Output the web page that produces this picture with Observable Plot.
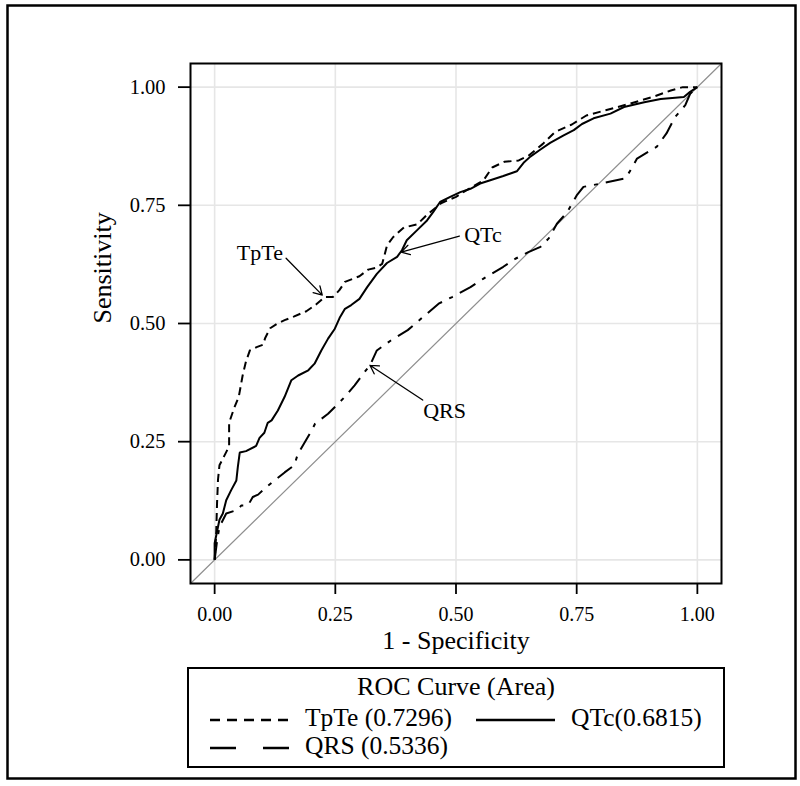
<!DOCTYPE html>
<html><head><meta charset="utf-8">
<script src="https://cdn.jsdelivr.net/npm/d3@7"></script>
<script src="https://cdn.jsdelivr.net/npm/@observablehq/plot@0.6"></script>
<style>
body{margin:0;background:#fff;}
#wrap{position:relative;width:800px;height:786px;font-family:"Liberation Serif","Times New Roman",serif;}
#wrap svg{position:absolute;left:0;top:0;}
</style></head><body><div id="wrap"></div>
<script>
// ---- data ----
const series = ["TpTe", "QTc", "QRS"];
const legendTitle = "ROC Curve (Area)";
const legendLabels = ["TpTe (0.7296)", "QTc(0.6815)", "QRS (0.5336)"];
const xTicks = [0, 0.25, 0.5, 0.75, 1];
const yTicks = [0, 0.25, 0.5, 0.75, 1];
const xDomain = [-0.05, 1.05];
const yDomain = [-0.05, 1.05];
const xLabel = "1 - Specificity";
const yLabel = "Sensitivity";

// [1 - specificity, sensitivity]
const tpte = [[0,0],[0.003,0.05],[0.005,0.12],[0.007,0.17],[0.01,0.2],[0.02,0.22],[0.03,0.24],[0.03,0.29],[0.04,0.32],[0.05,0.345],[0.058,0.39],[0.065,0.42],[0.073,0.443],[0.087,0.45],[0.1,0.455],[0.105,0.47],[0.115,0.49],[0.13,0.5],[0.145,0.507],[0.165,0.515],[0.19,0.526],[0.21,0.54],[0.228,0.556],[0.245,0.556],[0.258,0.57],[0.27,0.588],[0.3,0.6],[0.318,0.614],[0.335,0.618],[0.347,0.626],[0.352,0.645],[0.357,0.665],[0.37,0.683],[0.392,0.703],[0.42,0.71],[0.44,0.73],[0.47,0.755],[0.5,0.768],[0.53,0.787],[0.557,0.803],[0.575,0.83],[0.6,0.842],[0.63,0.845],[0.65,0.855],[0.68,0.88],[0.705,0.905],[0.74,0.921],[0.77,0.94],[0.81,0.951],[0.86,0.965],[0.91,0.98],[0.945,0.993],[0.97,1.0],[0.985,1.0],[1,1]];
const qtc = [[0,0],[0,0.035],[0.003,0.05],[0.007,0.07],[0.01,0.085],[0.017,0.098],[0.024,0.126],[0.034,0.147],[0.045,0.168],[0.048,0.196],[0.052,0.227],[0.065,0.23],[0.086,0.241],[0.093,0.258],[0.103,0.269],[0.11,0.29],[0.118,0.295],[0.131,0.316],[0.145,0.345],[0.159,0.38],[0.173,0.39],[0.194,0.401],[0.207,0.415],[0.221,0.443],[0.235,0.468],[0.249,0.489],[0.259,0.512],[0.27,0.531],[0.283,0.539],[0.3,0.552],[0.316,0.577],[0.336,0.605],[0.357,0.628],[0.378,0.641],[0.388,0.655],[0.398,0.676],[0.419,0.697],[0.44,0.718],[0.453,0.736],[0.467,0.757],[0.488,0.768],[0.509,0.778],[0.53,0.785],[0.55,0.796],[0.571,0.803],[0.598,0.812],[0.626,0.822],[0.64,0.84],[0.654,0.853],[0.675,0.868],[0.695,0.882],[0.723,0.898],[0.744,0.909],[0.761,0.922],[0.785,0.934],[0.82,0.944],[0.848,0.958],[0.89,0.968],[0.924,0.975],[0.972,0.979],[0.985,0.99],[1,1]];
const qrs = [[0,0],[0.005,0.04],[0.01,0.07],[0.024,0.098],[0.048,0.106],[0.055,0.115],[0.069,0.115],[0.079,0.133],[0.09,0.138],[0.107,0.154],[0.145,0.185],[0.165,0.2],[0.172,0.223],[0.2,0.272],[0.208,0.288],[0.235,0.309],[0.27,0.345],[0.29,0.369],[0.308,0.394],[0.322,0.412],[0.336,0.443],[0.365,0.464],[0.4,0.486],[0.44,0.521],[0.464,0.542],[0.492,0.556],[0.53,0.577],[0.557,0.595],[0.598,0.62],[0.623,0.637],[0.65,0.651],[0.675,0.662],[0.692,0.68],[0.709,0.711],[0.73,0.735],[0.75,0.771],[0.764,0.789],[0.8,0.796],[0.851,0.807],[0.865,0.83],[0.875,0.849],[0.916,0.874],[0.936,0.902],[0.954,0.937],[0.975,0.962],[0.985,0.986],[1,1]];

// annotation labels and arrows (data coordinates)
const annotText = ["TpTe", "QTc", "QRS"];
const annotX = [0.046, 0.517, 0.432];
const annotY = [0.649, 0.687, 0.316];
const arrowFromX = [0.148, 0.507, 0.431];
const arrowFromY = [0.638, 0.685, 0.338];
const arrowToX = [0.223, 0.3865, 0.3217];
const arrowToY = [0.56, 0.651, 0.4116];

// ---- build ----
const labels = annotText.map((t, i) => ({t, x: annotX[i], y: annotY[i]}));
const arrows = annotText.map((t, i) => ({x1: arrowFromX[i], y1: arrowFromY[i], x2: arrowToX[i], y2: arrowToY[i]}));
const fmt = d3.format(".2f");
const FONT = "'Liberation Serif','Times New Roman',serif";

const chart = Plot.plot({
  width: 800, height: 660,
  marginTop: 63, marginRight: 79, marginBottom: 77, marginLeft: 190,
  x: {domain: xDomain},
  y: {domain: yDomain},
  style: {fontFamily: FONT, background: "white", color: "black", overflow: "visible"},
  marks: [
    Plot.gridX(xTicks, {stroke: "#e6e6e6", strokeOpacity: 1, strokeWidth: 1.6}),
    Plot.gridY(yTicks, {stroke: "#e6e6e6", strokeOpacity: 1, strokeWidth: 1.6}),
    Plot.line(xDomain, {x: d => d, y: d => d, stroke: "#8f8f8f", strokeWidth: 1.2}),
    Plot.line(qrs, {x: d => d[0], y: d => d[1], stroke: "black", strokeWidth: 2, strokeDasharray: "18,8,4,8", strokeLinecap: "butt", strokeLinejoin: "miter"}),
    Plot.line(qtc, {x: d => d[0], y: d => d[1], stroke: "black", strokeWidth: 2, strokeLinecap: "butt", strokeLinejoin: "miter"}),
    Plot.line(tpte, {x: d => d[0], y: d => d[1], stroke: "black", strokeWidth: 2, strokeDasharray: "8,5", strokeLinecap: "butt", strokeLinejoin: "miter"}),
    Plot.arrow(arrows, {x1: "x1", y1: "y1", x2: "x2", y2: "y2", stroke: "black", strokeWidth: 1.3, headLength: 11}),
    Plot.text(labels, {x: "x", y: "y", text: "t", textAnchor: "start", fontSize: 22, fill: "black"}),
    Plot.frame({stroke: "black", strokeWidth: 2}),
    Plot.axisX(xTicks, {tickSize: 11, tickPadding: 12, tickFormat: fmt, fontSize: 20, strokeWidth: 1.8, label: null}),
    Plot.axisY(yTicks, {tickSize: 12, tickPadding: 13, tickFormat: fmt, fontSize: 20.5, strokeWidth: 1.8, label: null}),
    Plot.text([xLabel], {text: d => d, frameAnchor: "bottom", dy: 65, fontSize: 26, fill: "black"}),
    Plot.text([yLabel], {text: d => d, frameAnchor: "left", dx: -88, rotate: -90, fontSize: 26, fill: "black"})
  ]
});
const wrap = document.getElementById("wrap");
wrap.appendChild(chart);

// ---- frame + legend overlay ----
const svg = d3.select(wrap).append("svg").attr("width", 800).attr("height", 786)
  .style("pointer-events", "none").attr("font-family", FONT);
svg.append("rect").attr("x", 7.5).attr("y", 5.5).attr("width", 788).attr("height", 773)
  .attr("fill", "none").attr("stroke", "black").attr("stroke-width", 2.5);
svg.append("rect").attr("x", 188).attr("y", 668).attr("width", 536).attr("height", 99)
  .attr("fill", "none").attr("stroke", "black").attr("stroke-width", 2);
svg.append("text").attr("x", 456).attr("y", 695).attr("text-anchor", "middle")
  .attr("font-size", 26).text(legendTitle);
const keys = [
  {x: 210, y: 720, tx: 305, dash: "10,7"},
  {x: 476, y: 720, tx: 571, dash: null},
  {x: 210, y: 748, tx: 305, dash: "26,27"}
];
keys.forEach((k, i) => {
  const l = svg.append("line").attr("x1", k.x).attr("x2", k.x + 79).attr("y1", k.y).attr("y2", k.y)
    .attr("stroke", "black").attr("stroke-width", 2.6);
  if (k.dash) l.attr("stroke-dasharray", k.dash);
  svg.append("text").attr("x", k.tx).attr("y", k.y + 6).attr("font-size", 25.5).text(legendLabels[i]);
});
</script></body></html>
